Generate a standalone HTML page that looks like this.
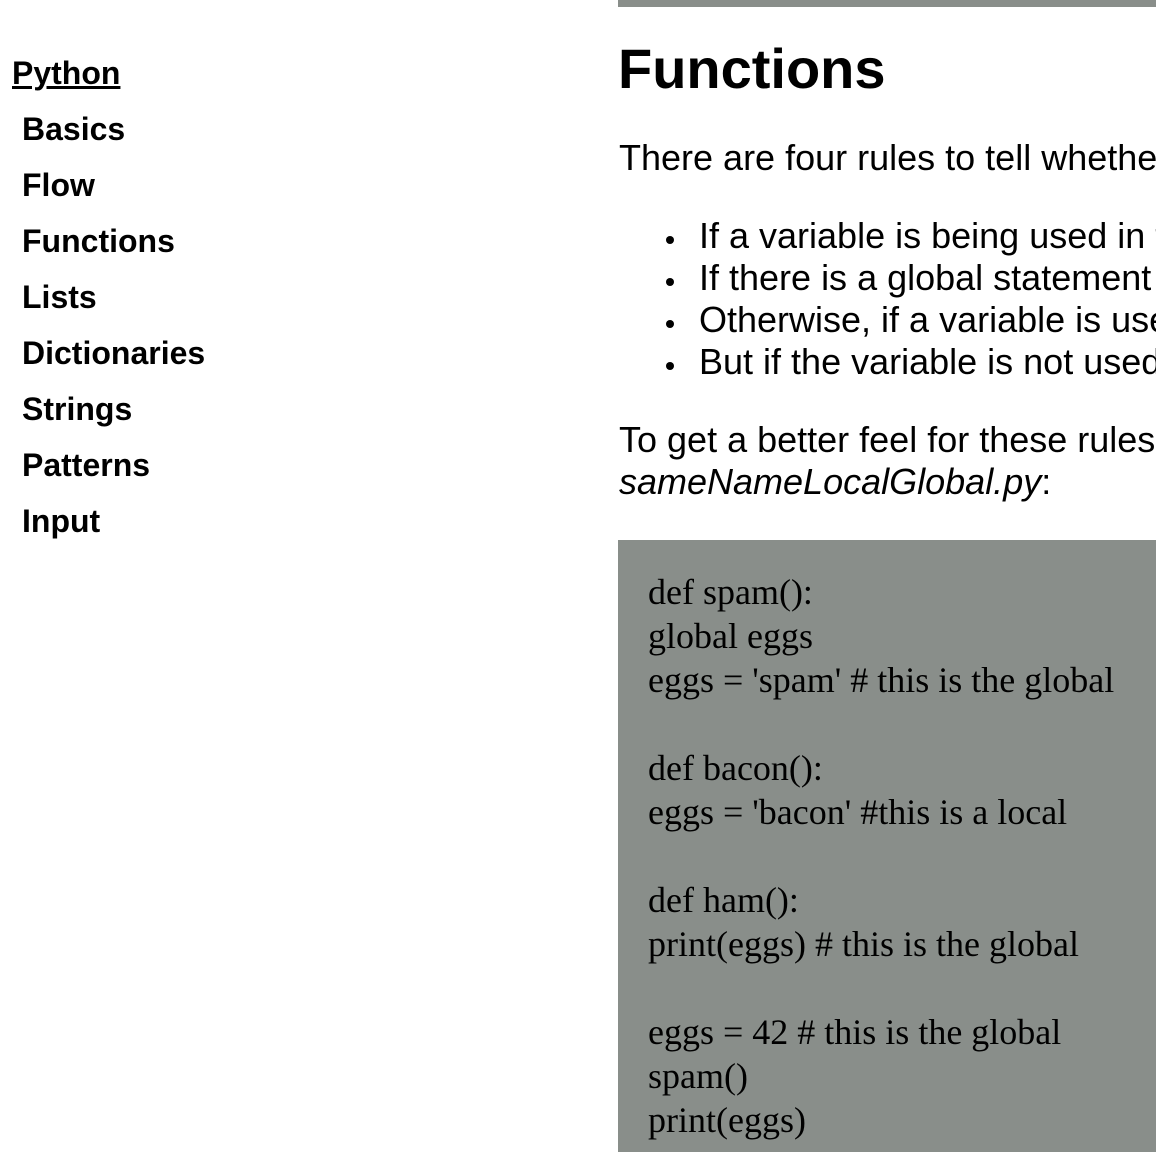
<!DOCTYPE html>
<html><head><meta charset="utf-8"><style>
html,body{margin:0;padding:0;width:1156px;height:1152px;overflow:hidden;background:#fff;position:relative}
#w{position:absolute;left:0;top:0;width:1156px;height:1152px;overflow:hidden}
div.t{position:absolute;white-space:nowrap;color:#000}
.nav{font:bold 32px/32px "Liberation Sans",sans-serif;left:22px}
.b{font:36px/36px "Liberation Sans",sans-serif}
.c{font:36px/36px "Liberation Serif",serif;left:648px}
.dot{position:absolute;width:8px;height:8px;border-radius:50%;background:#000;left:666px}
</style></head><body><div id="w">
<div style="position:absolute;left:618px;top:0;width:538px;height:7px;background:#898e8a"></div>
<div style="position:absolute;left:618px;top:540px;width:538px;height:612px;background:#898e8a"></div>

<div class="t nav" style="left:12px;top:57px;text-decoration:underline">Python</div>
<div class="t nav" style="top:113px">Basics</div>
<div class="t nav" style="top:169px">Flow</div>
<div class="t nav" style="top:225px">Functions</div>
<div class="t nav" style="top:281px">Lists</div>
<div class="t nav" style="top:337px">Dictionaries</div>
<div class="t nav" style="top:393px">Strings</div>
<div class="t nav" style="top:449px">Patterns</div>
<div class="t nav" style="top:505px">Input</div>

<div class="t" style="left:618px;top:41px;font:bold 56px/56px 'Liberation Sans',sans-serif">Functions</div>
<div class="t b" style="left:619px;top:140px">There are four rules to tell whether</div>
<div class="dot" style="top:236px"></div>
<div class="t b" style="left:699px;top:218px">If a variable is being used in the</div>
<div class="dot" style="top:278px"></div>
<div class="t b" style="left:699px;top:260px">If there is a global statement for</div>
<div class="dot" style="top:320px"></div>
<div class="t b" style="left:699px;top:302px">Otherwise, if a variable is used</div>
<div class="dot" style="top:362px"></div>
<div class="t b" style="left:699px;top:344px">But if the variable is not used in</div>
<div class="t b" style="left:619px;top:422px">To get a better feel for these rules,</div>
<div class="t b" style="left:619px;top:464px"><i>sameNameLocalGlobal.py</i>:</div>

<div class="t c" style="top:574px">def spam():</div>
<div class="t c" style="top:618px">global eggs</div>
<div class="t c" style="top:662px">eggs = 'spam' # this is the global</div>
<div class="t c" style="top:750px">def bacon():</div>
<div class="t c" style="top:794px">eggs = 'bacon' #this is a local</div>
<div class="t c" style="top:882px">def ham():</div>
<div class="t c" style="top:926px">print(eggs) # this is the global</div>
<div class="t c" style="top:1014px">eggs = 42 # this is the global</div>
<div class="t c" style="top:1058px">spam()</div>
<div class="t c" style="top:1102px">print(eggs)</div>
</div></body></html>
